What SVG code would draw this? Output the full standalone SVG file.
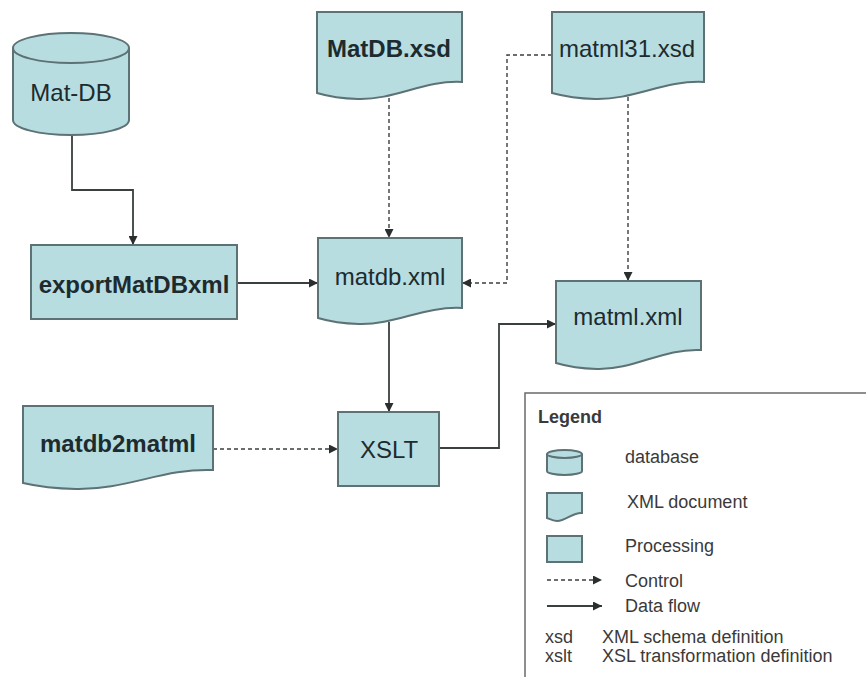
<svg xmlns="http://www.w3.org/2000/svg" width="866" height="677" viewBox="0 0 866 677">
  <style>
    .shape { fill: #b7dde1; stroke: #5d7275; stroke-width: 2; }
    .lbl { font-family: "Liberation Sans", Arial, sans-serif; font-size: 24px; fill: #1d2b2f; text-anchor: middle; }
    .bold { font-weight: bold; }
    .flow { fill: none; stroke: #3a3f40; stroke-width: 1.8; }
    .ctrl { fill: none; stroke: #3a3f40; stroke-width: 1.4; stroke-dasharray: 4 3; }
    .leg { font-family: "Liberation Sans", Arial, sans-serif; font-size: 18px; fill: #3a3a3a; }
  </style>
  <defs>
    <marker id="arrow" viewBox="0 0 10 10" refX="10" refY="5" markerWidth="9" markerHeight="9" markerUnits="userSpaceOnUse" orient="auto">
      <path d="M0,0 L10,5 L0,10 Z" fill="#2a2e2f"/>
    </marker>
  </defs>
  <rect width="866" height="677" fill="#ffffff"/>

  <!-- connectors -->
  <g id="connectors">
    <path class="flow" d="M72,134 V190 H133 V245" marker-end="url(#arrow)"/>
    <path class="flow" d="M237,283 H318" marker-end="url(#arrow)"/>
    <path class="ctrl" d="M389,98 V238" marker-end="url(#arrow)"/>
    <path class="ctrl" d="M552,55 H507 V283 H462" marker-end="url(#arrow)"/>
    <path class="ctrl" d="M628,97 V281" marker-end="url(#arrow)"/>
    <path class="flow" d="M389,322 V412" marker-end="url(#arrow)"/>
    <path class="flow" d="M439,448 H499 V324 H556" marker-end="url(#arrow)"/>
    <path class="ctrl" d="M213,449 H338" marker-end="url(#arrow)"/>
  </g>

  <!-- database -->
  <g id="mat-db">
    <path class="shape" d="M13,48 V120 A58,15 0 0 0 129,120 V48 A58,15 0 0 0 13,48 Z"/>
    <path class="shape" d="M13,48 A58,15 0 0 0 129,48" fill="none"/>
    <text class="lbl" x="71" y="101">Mat-DB</text>
  </g>

  <!-- processing steps -->
  <g id="export-matdbxml">
    <rect class="shape" x="31" y="245" width="206" height="74"/>
    <text class="lbl bold" x="134" y="293">exportMatDBxml</text>
  </g>
  <g id="xslt">
    <rect class="shape" x="338" y="412" width="101" height="74"/>
    <text class="lbl" x="389" y="458">XSLT</text>
  </g>

  <!-- XML documents -->
  <g id="matdb-xsd">
    <path class="shape" d="M317,12 H462 V82 C424,80 395,100 358,99 C340,98.5 327,96 317,93 Z"/>
    <text class="lbl bold" x="389" y="57">MatDB.xsd</text>
  </g>
  <g id="matml31-xsd">
    <path class="shape" d="M552,12 H704 V82 C664,80 634,100 595,99 C576,98.5 563,96 552,93 Z"/>
    <text class="lbl" x="627" y="57">matml31.xsd</text>
  </g>
  <g id="matdb-xml">
    <path class="shape" d="M318,238 H462 V308 C424,306 395,325 359,324 C341,323.5 328,321 318,318 Z"/>
    <text class="lbl" x="390" y="285">matdb.xml</text>
  </g>
  <g id="matml-xml">
    <path class="shape" d="M556,281 H701 V350 C663,348 634,370 597,369 C579,368.5 566,366 556,363 Z"/>
    <text class="lbl" x="628" y="325">matml.xml</text>
  </g>
  <g id="matdb2matml">
    <path class="shape" d="M23,406 H213 V470 C164,468 126,490 76,489 C53,488.5 36,486 23,483 Z"/>
    <text class="lbl bold" x="118" y="452">matdb2matml</text>
  </g>

  <!-- legend -->
  <g id="legend">
    <rect x="525" y="393" width="350" height="300" fill="#ffffff" stroke="#6a6a6a" stroke-width="1.5"/>
    <text class="leg" x="538" y="423" font-weight="bold" font-size="20" fill="#111">Legend</text>
    <path class="shape" stroke-width="1.5" d="M547,454 V471 A17.5,4 0 0 0 582,471 V454 A17.5,4 0 0 0 547,454 Z"/>
    <path class="shape" stroke-width="1.5" d="M547,454 A17.5,4 0 0 0 582,454" fill="none"/>
    <text class="leg" x="625" y="463">database</text>
    <path class="shape" stroke-width="1.5" d="M547,493 H582 V513 C573,512 566,521 557,521 C553,521 549.5,519 547,518 Z"/>
    <text class="leg" x="627" y="508">XML document</text>
    <rect class="shape" stroke-width="1.5" x="547" y="536" width="35" height="26"/>
    <text class="leg" x="625" y="552">Processing</text>
    <path class="ctrl" stroke-width="1.2" d="M547,580 H602" marker-end="url(#arrow)"/>
    <text class="leg" x="625" y="587">Control</text>
    <path class="flow" stroke-width="1.6" d="M547,606 H602" marker-end="url(#arrow)"/>
    <text class="leg" x="625" y="612">Data flow</text>
    <text class="leg" x="545" y="643">xsd</text>
    <text class="leg" x="602" y="643">XML schema definition</text>
    <text class="leg" x="545" y="662">xslt</text>
    <text class="leg" x="602" y="662">XSL transformation definition</text>
  </g>
</svg>
